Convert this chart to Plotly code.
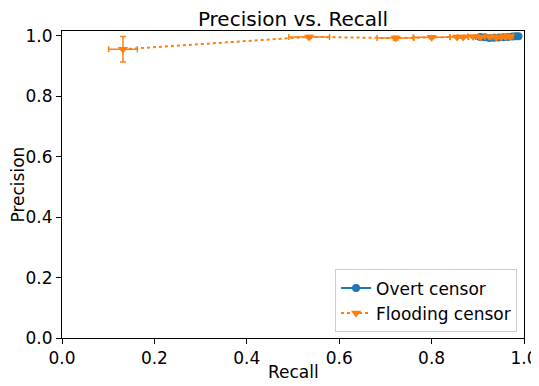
import plotly.graph_objects as go

# Overt censor (blue)
overt_recall = [0.905, 0.915, 0.925, 0.935, 0.945, 0.955, 0.965, 0.975, 0.982, 0.988]
overt_precision = [0.997, 0.996, 0.993, 0.994, 0.995, 0.996, 0.997, 0.998, 0.999, 0.999]
overt_xerr = [0.006, 0.006, 0.006, 0.006, 0.005, 0.005, 0.005, 0.004, 0.004, 0.003]
overt_yerr = [0.003, 0.004, 0.005, 0.004, 0.004, 0.003, 0.003, 0.002, 0.002, 0.001]

# Flooding censor (orange)
flood_recall = [0.132, 0.535, 0.722, 0.80, 0.855, 0.868, 0.89, 0.905, 0.925, 0.94, 0.95, 0.96, 0.97]
flood_precision = [0.956, 0.997, 0.993, 0.996, 0.997, 0.997, 0.998, 0.997, 0.998, 0.996, 0.997, 0.998, 0.998]
flood_xerr = [0.031, 0.044, 0.04, 0.04, 0.015, 0.012, 0.012, 0.01, 0.01, 0.01, 0.008, 0.008, 0.006]
flood_yerr = [0.042, 0.005, 0.006, 0.004, 0.004, 0.004, 0.003, 0.004, 0.003, 0.004, 0.003, 0.003, 0.002]

x_ticks = [0.0, 0.2, 0.4, 0.6, 0.8, 1.0]
y_ticks = [0.0, 0.2, 0.4, 0.6, 0.8, 1.0]

BLUE = "#1f77b4"
ORANGE = "#ff7f0e"
FONT = "DejaVu Sans"

fig = go.Figure()
fig.add_trace(go.Scatter(
    x=overt_recall, y=overt_precision, name="Overt censor",
    mode="lines+markers",
    line=dict(color=BLUE, width=2),
    marker=dict(symbol="circle", size=8, color=BLUE),
    error_x=dict(type="data", array=overt_xerr, color=BLUE, thickness=1.5, width=3),
    error_y=dict(type="data", array=overt_yerr, color=BLUE, thickness=1.5, width=3),
))
fig.add_trace(go.Scatter(
    x=flood_recall, y=flood_precision, name="Flooding censor",
    mode="lines+markers",
    line=dict(color=ORANGE, width=2, dash="dot"),
    marker=dict(symbol="triangle-down", size=9, color=ORANGE),
    error_x=dict(type="data", array=flood_xerr, color=ORANGE, thickness=1.5, width=3),
    error_y=dict(type="data", array=flood_yerr, color=ORANGE, thickness=1.5, width=3),
))

axis_common = dict(
    showgrid=False, zeroline=False, showline=True, linecolor="black", linewidth=1,
    mirror=True, ticks="outside", ticklen=5, tickwidth=1, tickcolor="black",
    tickfont=dict(family=FONT, size=17, color="black"), automargin=False,
)
fig.update_xaxes(range=[0, 1], tickvals=x_ticks, ticktext=[f"{v:.1f}" for v in x_ticks], **axis_common)
fig.update_yaxes(range=[0, 1.0165], tickvals=y_ticks, ticktext=[f"{v:.1f}" for v in y_ticks], **axis_common)

# axis titles as annotations for precise placement
fig.add_annotation(text="Recall", xref="paper", yref="paper", x=0.5, y=0,
                   xanchor="center", yanchor="middle", yshift=-34, showarrow=False,
                   font=dict(family=FONT, size=17, color="black"))
fig.add_annotation(text="Precision", xref="paper", yref="paper", x=0, y=0.5,
                   xanchor="center", yanchor="middle", xshift=-45, textangle=-90, showarrow=False,
                   font=dict(family=FONT, size=17, color="black"))

# page body has an 8px margin; compensate so the plot lands where the reference has it
fig.update_layout(
    width=531, height=378,
    margin=dict(l=54, r=15, t=23, b=48, autoexpand=False),
    paper_bgcolor="white", plot_bgcolor="white",
    title=dict(text="Precision vs. Recall", xref="paper", x=0.5, xanchor="center",
               y=0.97, yanchor="middle",
               font=dict(family=FONT, size=20, color="black")),
    legend=dict(x=0.985, y=0.018, xanchor="right", yanchor="bottom",
                bgcolor="rgba(255,255,255,0.8)", bordercolor="#cccccc", borderwidth=1,
                font=dict(family=FONT, size=17, color="black")),
    showlegend=True,
)

fig.write_html("out.html")
